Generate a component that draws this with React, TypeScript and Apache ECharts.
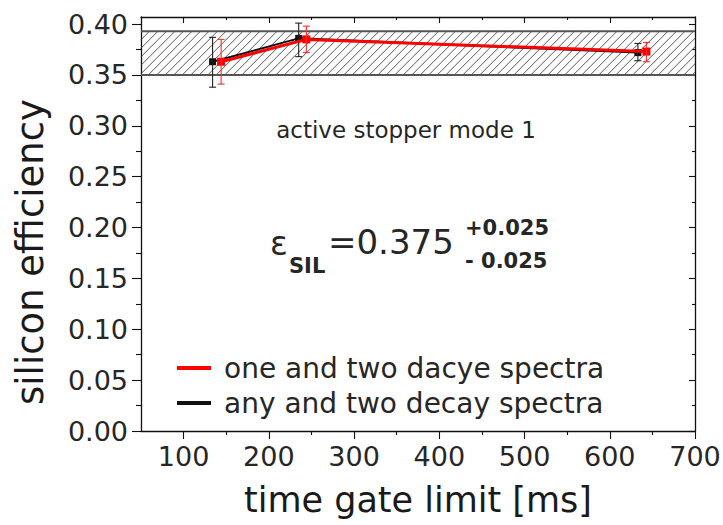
import React, { useEffect, useRef } from 'react';
import * as echarts from 'echarts';

const xRange = [50, 700];
const yRange = [0, 0.407];
const xMajorTicks = [100, 200, 300, 400, 500, 600, 700];
const xMinorTicks = [150, 250, 350, 450, 550, 650];
const yMajorTicks = [0, 0.05, 0.1, 0.15, 0.2, 0.25, 0.3, 0.35, 0.4];
const yMinorTicks = [0.025, 0.075, 0.125, 0.175, 0.225, 0.275, 0.325, 0.375];

const redName = 'one and two dacye spectra';
const blackName = 'any and two decay spectra';

const blackX = [134, 235, 633];
const blackY = [0.363, 0.386, 0.372];
const blackLow = [0.338, 0.368, 0.364];
const blackHigh = [0.387, 0.401, 0.381];

const redX = [144, 244, 643];
const redY = [0.363, 0.385, 0.373];
const redLow = [0.341, 0.372, 0.363];
const redHigh = [0.385, 0.398, 0.382];

const band = [0.35, 0.393];

const xTitle = 'time gate limit [ms]';
const yTitle = 'silicon efficiency';
const modeText = 'active stopper mode 1';

const FONT = '"DejaVu Sans", "Liberation Sans", Arial, sans-serif';
const TEXT_COLOR = '#262626';

function errorBar(color: string) {
  return (params: any, api: any) => {
    const x = api.value(0);
    const lo = api.coord([x, api.value(2)]);
    const hi = api.coord([x, api.value(3)]);
    const w = 3.5;
    const style = { stroke: color, lineWidth: 1.1 };
    return {
      type: 'group',
      children: [
        { type: 'line', shape: { x1: lo[0], y1: lo[1], x2: hi[0], y2: hi[1] }, style },
        { type: 'line', shape: { x1: lo[0] - w, y1: lo[1], x2: lo[0] + w, y2: lo[1] }, style },
        { type: 'line', shape: { x1: hi[0] - w, y1: hi[1], x2: hi[0] + w, y2: hi[1] }, style },
      ],
    };
  };
}

export default function App() {
  const ref = useRef<HTMLDivElement>(null);
  useEffect(() => {
    document.body.style.margin = '0';
    const chart = echarts.init(ref.current!, null, { renderer: 'svg' });
    const axisLine = { color: '#111', width: 1.3 };
    const tickStyle = { color: '#111', width: 1.1 };
    const labelStyle = { fontSize: 27, fontFamily: FONT, color: TEXT_COLOR };

    const xBase = { type: 'value', min: xRange[0], max: xRange[1], splitLine: { show: false } };
    const yBase = { type: 'value', min: yRange[0], max: yRange[1], splitLine: { show: false } };

    const option: any = {
      animation: false,
      backgroundColor: '#ffffff',
      grid: { left: 141, right: 28, top: 17, bottom: 94, containLabel: false, outerBoundsMode: 'none' },
      xAxis: [
        {
          ...xBase,
          position: 'bottom',
          axisLine: { show: true, onZero: false, lineStyle: axisLine },
          axisTick: { show: true, customValues: xMajorTicks, length: 8, lineStyle: tickStyle },
          axisLabel: { ...labelStyle, customValues: xMajorTicks, margin: 12 },
          name: xTitle,
          nameLocation: 'middle',
          nameGap: 51,
          nameTextStyle: { fontSize: 35, fontFamily: FONT, color: '#1a1a1a' },
        },
        {
          ...xBase,
          position: 'bottom',
          axisLine: { show: false, onZero: false },
          axisTick: { show: true, customValues: xMinorTicks, length: 4, lineStyle: tickStyle },
          axisLabel: { show: false },
        },
        {
          ...xBase,
          position: 'top',
          axisLine: { show: true, onZero: false, lineStyle: axisLine },
          axisTick: { show: true, inside: true, customValues: xMajorTicks, length: 6, lineStyle: tickStyle },
          axisLabel: { show: false },
        },
        {
          ...xBase,
          position: 'top',
          axisLine: { show: false, onZero: false },
          axisTick: { show: true, inside: true, customValues: xMinorTicks, length: 3, lineStyle: tickStyle },
          axisLabel: { show: false },
        },
      ],
      yAxis: [
        {
          ...yBase,
          position: 'left',
          axisLine: { show: true, onZero: false, lineStyle: axisLine },
          axisTick: { show: true, customValues: yMajorTicks, length: 9, lineStyle: tickStyle },
          axisLabel: {
            ...labelStyle,
            customValues: yMajorTicks,
            margin: 13,
            formatter: (v: number) => v.toFixed(2),
          },
          name: yTitle,
          nameLocation: 'middle',
          nameGap: 92,
          nameRotate: 90,
          nameTextStyle: { fontSize: 37, fontFamily: FONT, color: '#1a1a1a', padding: [0, 56, 0, 0] },
        },
        {
          ...yBase,
          position: 'left',
          axisLine: { show: false, onZero: false },
          axisTick: { show: true, customValues: yMinorTicks, length: 5, lineStyle: tickStyle },
          axisLabel: { show: false },
        },
        {
          ...yBase,
          position: 'right',
          axisLine: { show: true, onZero: false, lineStyle: axisLine },
          axisTick: { show: true, inside: true, customValues: yMajorTicks, length: 6, lineStyle: tickStyle },
          axisLabel: { show: false },
        },
        {
          ...yBase,
          position: 'right',
          axisLine: { show: false, onZero: false },
          axisTick: { show: true, inside: true, customValues: yMinorTicks, length: 3, lineStyle: tickStyle },
          axisLabel: { show: false },
        },
      ],
      legend: {
        data: [redName, blackName],
        orient: 'vertical',
        left: 177,
        top: 353,
        padding: 0,
        icon: 'rect',
        itemWidth: 34,
        itemHeight: 4,
        itemGap: 5,
        selectedMode: false,
        textStyle: { fontSize: 28, fontFamily: FONT, color: TEXT_COLOR, lineHeight: 30, padding: [0, 0, 0, 8] },
      },
      graphic: [
        {
          type: 'text',
          style: { text: modeText, x: 406, y: 130, align: 'center', verticalAlign: 'middle', fontSize: 23, fontFamily: FONT, fill: TEXT_COLOR },
        },
        {
          type: 'text',
          style: { text: 'ε', x: 270, y: 243, align: 'left', verticalAlign: 'middle', fontSize: 33, fontFamily: FONT, fill: TEXT_COLOR },
        },
        {
          type: 'text',
          style: { text: 'SIL', x: 289, y: 265.5, align: 'left', verticalAlign: 'middle', fontSize: 21, fontWeight: 'bold', fontFamily: FONT, fill: TEXT_COLOR },
        },
        {
          type: 'text',
          style: { text: '=0.375', x: 328, y: 241.5, align: 'left', verticalAlign: 'middle', fontSize: 34, fontFamily: FONT, fill: TEXT_COLOR },
        },
        {
          type: 'text',
          style: { text: '+0.025', x: 465, y: 227.5, align: 'left', verticalAlign: 'middle', fontSize: 21, fontWeight: 'bold', fontFamily: FONT, fill: TEXT_COLOR },
        },
        {
          type: 'text',
          style: { text: '- 0.025', x: 465, y: 260.5, align: 'left', verticalAlign: 'middle', fontSize: 21, fontWeight: 'bold', fontFamily: FONT, fill: TEXT_COLOR },
        },
      ],
      series: [
        {
          type: 'custom',
          name: 'band',
          silent: true,
          z: 1,
          xAxisIndex: 0,
          yAxisIndex: 0,
          data: [[xRange[0], band[0], xRange[1], band[1]]],
          renderItem: (params: any, api: any) => {
            const p0 = api.coord([api.value(0), api.value(3)]);
            const p1 = api.coord([api.value(2), api.value(1)]);
            const left = p0[0];
            const top = p0[1];
            const right = p1[0];
            const bottom = p1[1];
            const h = bottom - top;
            const children: any[] = [];
            for (let xb = left - h; xb < right; xb += 8.5) {
              const xs = Math.max(xb, left);
              const xe = Math.min(xb + h, right);
              if (xe <= xs) continue;
              children.push({
                type: 'line',
                shape: { x1: xs, y1: bottom - (xs - xb), x2: xe, y2: bottom - (xe - xb) },
                style: { stroke: '#444', lineWidth: 0.9 },
              });
            }
            children.push({ type: 'line', shape: { x1: left, y1: top, x2: right, y2: top }, style: { stroke: '#555', lineWidth: 1.8 } });
            children.push({ type: 'line', shape: { x1: left, y1: bottom, x2: right, y2: bottom }, style: { stroke: '#555', lineWidth: 1.8 } });
            return { type: 'group', children };
          },
        },
        {
          type: 'line',
          name: blackName,
          z: 3,
          data: blackX.map((x, i) => [x, blackY[i]]),
          symbol: 'rect',
          symbolSize: 7,
          itemStyle: { color: '#111' },
          lineStyle: { color: '#111', width: 2 },
        },
        {
          type: 'custom',
          name: 'blackErr',
          z: 4,
          silent: true,
          data: blackX.map((x, i) => [x, blackY[i], blackLow[i], blackHigh[i]]),
          renderItem: errorBar('#222'),
        },
        {
          type: 'line',
          name: redName,
          z: 5,
          data: redX.map((x, i) => [x, redY[i]]),
          symbol: 'rect',
          symbolSize: 8,
          itemStyle: { color: '#ff0000' },
          lineStyle: { color: '#ff0000', width: 3 },
        },
        {
          type: 'custom',
          name: 'redErr',
          z: 6,
          silent: true,
          data: redX.map((x, i) => [x, redY[i], redLow[i], redHigh[i]]),
          renderItem: errorBar('#ff2a2a'),
        },
      ],
    };
    chart.setOption(option);
    return () => chart.dispose();
  }, []);
  return <div ref={ref} style={{ position: 'fixed', left: 0, top: 0, width: 723, height: 525 }} />;
}
